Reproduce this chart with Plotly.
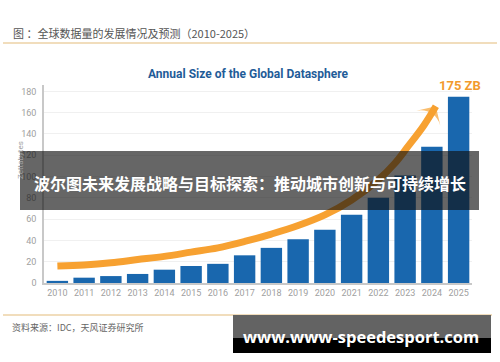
import plotly.graph_objects as go

# ---- data ----
years = [2010, 2011, 2012, 2013, 2014, 2015, 2016, 2017, 2018, 2019, 2020, 2021, 2022, 2023, 2024, 2025]
zettabytes = [2, 5, 6.5, 8.5, 12.5, 16, 18, 26, 33, 41, 50, 64, 80, 101, 128, 175]
trend_x = [2010, 2011, 2012, 2013, 2014, 2015, 2016, 2017, 2018, 2019, 2020, 2021, 2022, 2022.6, 2023.1, 2023.7, 2024.15]
trend_y = [16, 17, 19, 22, 25, 29, 33, 39, 46, 54, 64, 78, 97, 112, 128, 148, 166]
y_ticks = [0, 20, 40, 60, 80, 100, 120, 140, 160, 180]

W, H = 500, 362
L, R, T, B = 44, 28, 85, 79
PW, PH = W - L - R, H - T - B


def px(x):
    return (x - L) / PW


def py(y):
    return (H - B - y) / PH


fig = go.Figure()
fig.add_trace(go.Bar(x=years, y=zettabytes, width=0.8,
                     marker=dict(color="#1967ae", line=dict(width=0)),
                     hoverinfo="skip"))
fig.add_trace(go.Scatter(x=trend_x, y=trend_y, mode="lines+markers",
                         line=dict(color="#f7a131", width=7, shape="spline"),
                         marker=dict(size=[0] * (len(trend_x) - 1) + [20],
                                     symbol="arrow-wide", angleref="previous",
                                     color="#f7a131", line=dict(width=0)),
                         hoverinfo="skip"))

cond = "Roboto, sans-serif"
cjk = "Noto Sans CJK SC, sans-serif"

fig.update_layout(
    width=W, height=H,
    margin=dict(l=L, r=R, t=T, b=B),
    paper_bgcolor="white", plot_bgcolor="white",
    showlegend=False,
    bargap=0.2,
    xaxis=dict(range=[2009.5, 2025.5], tickmode="array", tickvals=years,
               ticktext=[str(y) for y in years], showgrid=False,
               showline=True, linecolor="#c8c8c8", linewidth=1.5,
               ticks="", tickfont=dict(family=cond, size=9, color="#a0a0a0"),
               fixedrange=True),
    yaxis=dict(range=[0, 186], tickmode="array", tickvals=y_ticks,
               showgrid=True, gridcolor="#f0f0f0", gridwidth=1,
               zeroline=False, showline=True, linecolor="#c8c8c8", linewidth=1.5,
               ticks="", ticklabelstandoff=4,
               tickfont=dict(family=cond, size=9, color="#a0a0a0"),
               fixedrange=True),
)

shapes = [
    dict(type="line", xref="paper", yref="paper", x0=px(3), x1=px(497), y0=py(43), y1=py(43),
         line=dict(color="#ecd2a6", width=1.5)),
    dict(type="line", xref="paper", yref="paper", x0=px(3), x1=px(492), y0=py(315), y1=py(315),
         line=dict(color="#ecd2a6", width=1.5)),
    dict(type="rect", xref="paper", yref="paper", x0=px(20), x1=px(479), y0=py(210), y1=py(151),
         fillcolor="rgba(16,16,16,0.64)", line=dict(width=0), layer="above"),
    dict(type="rect", xref="paper", yref="paper", x0=px(233), x1=px(491), y0=py(338), y1=py(315),
         fillcolor="#636363", line=dict(width=0), layer="above"),
    dict(type="rect", xref="paper", yref="paper", x0=px(233), x1=px(491), y0=py(353), y1=py(338),
         fillcolor="#000000", line=dict(width=0), layer="above"),
]
fig.update_layout(shapes=shapes)

ann = [
    dict(text="图 ：全球数据量的发展情况及预测（2010-2025）", x=px(11), y=py(33),
         xanchor="left", yanchor="middle", font=dict(family=cjk, size=11, color="#555555")),
    dict(text="<b>Annual Size of the Global Datasphere</b>", x=px(248), y=py(74),
         xanchor="center", yanchor="middle", font=dict(family=cond, size=12, color="#1f5c98")),
    dict(text="<b>175 ZB</b>", x=px(460), y=py(85),
         xanchor="center", yanchor="middle", font=dict(family=cond, size=13, color="#f29a2e")),
    dict(text="Zettabytes", x=px(20), y=py(160), textangle=-90,
         xanchor="center", yanchor="middle", font=dict(family=cond, size=8, color="#a0a0a0")),
    dict(text="<b>波尔图未来发展战略与目标探索：推动城市创新与可持续增长</b>", x=px(250), y=py(183),
         xanchor="center", yanchor="middle", font=dict(family=cjk, size=16, color="white")),
    dict(text="资料来源：IDC，天风证券研究所", x=px(10), y=py(327),
         xanchor="left", yanchor="middle", font=dict(family=cjk, size=9, color="#666666")),
    dict(text="<b>www.www-speedesport.com</b>", x=px(361), y=py(336),
         xanchor="center", yanchor="middle", font=dict(family="Open Sans, DejaVu Sans, sans-serif", size=16.5, color="white")),
]
for a in ann:
    a.update(xref="paper", yref="paper", showarrow=False)
fig.update_layout(annotations=ann)

fig.write_html("out.html", config={"displayModeBar": False},
               post_script="document.body.style.margin='0';document.body.style.padding='0';")
